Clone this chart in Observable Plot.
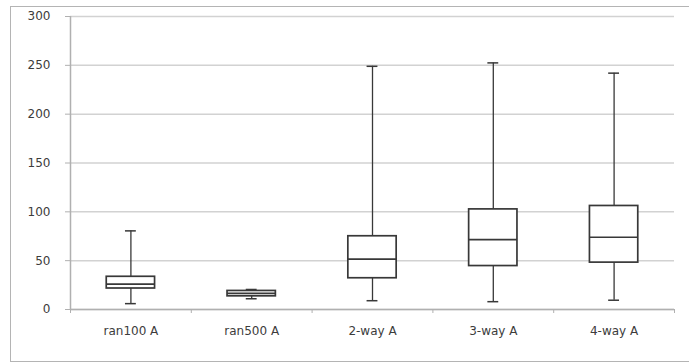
<!DOCTYPE html>
<html>
<head>
<meta charset="utf-8">
<script src="https://cdn.jsdelivr.net/npm/d3@7"></script>
<script src="https://cdn.jsdelivr.net/npm/@observablehq/plot@0.6"></script>
<style>
  html, body { margin: 0; padding: 0; background: #fff; overflow: hidden; }
  #wrap { position: relative; width: 689px; height: 363px; overflow: hidden; }
  #border { position: absolute; left: 10px; top: 6px; width: 720px; height: 356px;
            border: 1.5px solid #b4b4b4; box-sizing: border-box; }
  #chart { position: absolute; left: 0; top: 0; }
</style>
</head>
<body>
<div id="wrap">
  <div id="border"></div>
  <div id="chart"></div>
</div>
<script>
// Five-number summaries per group
const categories = ["ran100 A", "ran500 A", "2-way A", "3-way A", "4-way A"];
const minima  = [6,    11,   9,    8,     9.5];
const q1      = [21.5, 13.5, 32,   44.5,  48];
const medians = [26,   16.5, 51.5, 71.5,  74];
const q3      = [33.5, 19,   75,   102.5, 106];
const maxima  = [80.5, 20.5, 249,  252.5, 242];
const yTicks  = [0, 50, 100, 150, 200, 250, 300];

const rows = categories.map((c, i) => ({
  c, i, lo: minima[i], q1: q1[i], med: medians[i], q3: q3[i], hi: maxima[i]
}));

const centers = categories.map((_, i) => i + 0.5);
const bounds = d3.range(0, categories.length + 1);
const boxHalf = 0.2, capHalf = 0.045;
const ink = "#383838";

const chart = Plot.plot({
  width: 689,
  height: 363,
  marginLeft: 70,
  marginRight: 15,
  marginTop: 16,
  marginBottom: 54,
  x: { type: "linear", domain: [0, categories.length] },
  y: { domain: [0, 300] },
  style: { fontFamily: "DejaVu Sans", fontSize: "12px", color: "#3c3c3c", background: "transparent" },
  marks: [
    Plot.gridY(yTicks, { stroke: "#d2d2d2", strokeOpacity: 1, strokeWidth: 1.5 }),
    Plot.ruleX([0], { stroke: "#b0b0b0", strokeWidth: 1.5 }),
    Plot.ruleY([0], { stroke: "#b0b0b0", strokeWidth: 1.5 }),
    Plot.axisY(yTicks, { tickSize: 5, tickPadding: 15, stroke: "#b0b0b0", label: null }),
    Plot.axisX(bounds, { tickSize: 4, tickFormat: () => "", stroke: "#b0b0b0", label: null }),
    Plot.axisX(centers, { tickSize: 0, tickPadding: 17, label: null,
      tickFormat: d => categories[Math.round(d - 0.5)] }),
    // whiskers and caps
    Plot.ruleX(rows, { x: d => d.i + 0.5, y1: "lo", y2: "hi", stroke: ink, strokeWidth: 1.3 }),
    Plot.ruleY(rows, { x1: d => d.i + 0.5 - capHalf, x2: d => d.i + 0.5 + capHalf, y: "lo", stroke: ink, strokeWidth: 1.5 }),
    Plot.ruleY(rows, { x1: d => d.i + 0.5 - capHalf, x2: d => d.i + 0.5 + capHalf, y: "hi", stroke: ink, strokeWidth: 1.5 }),
    // interquartile boxes and medians
    Plot.rect(rows, { x1: d => d.i + 0.5 - boxHalf, x2: d => d.i + 0.5 + boxHalf, y1: "q1", y2: "q3",
      fill: "white", stroke: ink, strokeWidth: 1.7 }),
    Plot.ruleY(rows, { x1: d => d.i + 0.5 - boxHalf, x2: d => d.i + 0.5 + boxHalf, y: "med", stroke: ink, strokeWidth: 1.7 })
  ]
});

document.getElementById("chart").appendChild(chart);
</script>
</body>
</html>
